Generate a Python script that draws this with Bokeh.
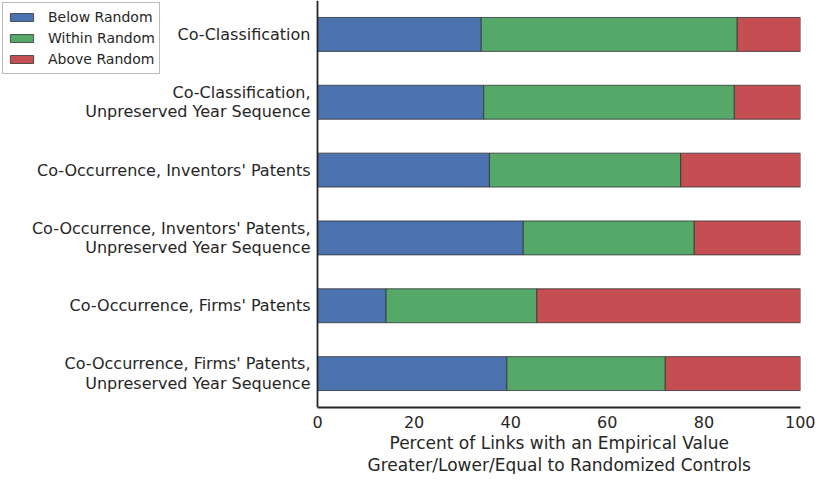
from bokeh.plotting import figure
from bokeh.models import Range1d, FactorRange, Legend, LegendItem, FixedTicker, ColumnDataSource, Title
from bokeh.embed import file_html
from bokeh.resources import INLINE

categories = [
    "Co-Classification",
    "Co-Classification,\nUnpreserved Year Sequence",
    "Co-Occurrence, Inventors' Patents",
    "Co-Occurrence, Inventors' Patents,\nUnpreserved Year Sequence",
    "Co-Occurrence, Firms' Patents",
    "Co-Occurrence, Firms' Patents,\nUnpreserved Year Sequence",
]
below_random = [33.9, 34.4, 35.6, 42.6, 14.2, 39.2]
within_random = [53.0, 51.9, 39.6, 35.4, 31.2, 32.8]
above_random = [13.1, 13.7, 24.8, 22.0, 54.6, 28.0]
series_names = ["Below Random", "Within Random", "Above Random"]
x_ticks = [0, 20, 40, 60, 80, 100]
x_label_lines = ["Percent of Links with an Empirical Value",
                 "Greater/Lower/Equal to Randomized Controls"]

colors = ["#4C72B0", "#55A868", "#C44E52"]
TXT = "#262626"
FONT = "DejaVu Sans"

W, H = 815, 474
RIGHT = 15
ZERO_PX = 317  # screen position of x = 0 (label area sits to its left)
frame_w = W - RIGHT
x_start = -100.0 * ZERO_PX / (frame_w - ZERO_PX)
axis_center = (ZERO_PX + frame_w) / 2.0

src = ColumnDataSource(dict(cat=categories, below=below_random,
                            within=within_random, above=above_random))

p = figure(width=W, height=H, output_backend="svg", toolbar_location=None,
           y_range=FactorRange(factors=list(reversed(categories))),
           x_range=Range1d(x_start, 100),
           min_border_left=0, min_border_right=RIGHT, min_border_top=0,
           min_border_bottom=0)

renderers = p.hbar_stack(["below", "within", "above"], y="cat", height=0.5,
                         color=colors, line_color="#333333", line_width=0.8,
                         source=src)

p.xgrid.visible = False
p.ygrid.visible = False
p.outline_line_color = None
p.background_fill_color = "white"
p.border_fill_color = "white"

for ax in (p.xaxis, p.yaxis):
    ax.axis_line_color = TXT
    ax.axis_line_width = 1.8
    ax.major_tick_line_color = None
    ax.minor_tick_line_color = None
    ax.major_label_text_font = FONT
    ax.major_label_text_font_size = "16px"
    ax.major_label_text_color = TXT

p.yaxis.fixed_location = 0
p.yaxis.major_label_standoff = 1
p.yaxis.major_label_text_line_height = 1.02

p.xaxis.ticker = FixedTicker(ticks=x_ticks)
p.xaxis.bounds = (0, 100)
p.xaxis.major_label_standoff = 2

# two-line x-axis title, centred under the 0..100 part of the axis
approx_w = [339, 383]
for line, w in zip(x_label_lines, approx_w):
    t = Title(text=line, align="left", offset=axis_center - w / 2.0,
              text_font=FONT, text_font_size="17px", text_font_style="normal",
              text_color=TXT, standoff=0)
    p.add_layout(t, "below")

legend = Legend(items=[LegendItem(label=n, renderers=[r]) for n, r in zip(series_names, renderers)],
                location="top_left",
                label_text_font=FONT, label_text_font_size="14px", label_text_color=TXT,
                glyph_width=29, glyph_height=10, label_height=20, label_standoff=12,
                spacing=1, padding=4, margin=2,
                border_line_color="#777777", border_line_width=1,
                background_fill_color="white", background_fill_alpha=1.0)
p.add_layout(legend, "center")

open("out.html", "w").write(file_html(p, INLINE))
